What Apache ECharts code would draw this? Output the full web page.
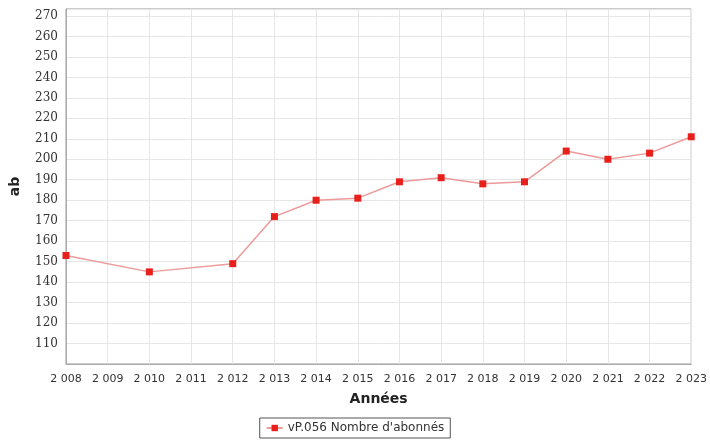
<!DOCTYPE html>
<html><head><meta charset="utf-8">
<script src="https://cdn.jsdelivr.net/npm/echarts@6/dist/echarts.min.js"></script>
<style>html,body{margin:0;padding:0;background:#fff}#c{width:710px;height:440px}</style>
</head><body><div id="c"></div>
<script>
const years = [2008, 2010, 2012, 2013, 2014, 2015, 2016, 2017, 2018, 2019, 2020, 2021, 2022, 2023];
const values = [153, 145, 149, 172, 180, 181, 189, 191, 188, 189, 204, 200, 203, 211];
const seriesName = "vP.056 Nombre d'abonnés";
const xName = "Années";
const yName = "ab";

const chart = echarts.init(document.getElementById('c'));
chart.setOption({
  animation: false,
  backgroundColor: '#fff',
  grid: { left: 66, right: 14, top: 9, bottom: 76, show: true, borderColor: '#999', borderWidth: 1, backgroundColor: '#fff' },
  xAxis: {
    type: 'value', min: 2008, max: 2023, interval: 1,
    name: xName, nameLocation: 'middle', nameGap: 28,
    nameTextStyle: { fontFamily: 'DejaVu Sans', fontWeight: 'bold', fontSize: 14, color: '#222' },
    axisLine: { show: true, lineStyle: { color: '#aaa' } },
    axisTick: { show: false },
    axisLabel: { fontFamily: 'DejaVu Sans', fontSize: 11, color: '#333', margin: 10,
      formatter: v => { const s = String(v); return s[0] + ' ' + s.slice(1); } },
    splitLine: { show: true, lineStyle: { color: '#e6e6e6' } }
  },
  yAxis: {
    type: 'value', min: 100, max: 273.4, interval: 10,
    name: yName, nameLocation: 'middle', nameGap: 44, nameRotate: 90,
    nameTextStyle: { fontFamily: 'DejaVu Sans', fontWeight: 'bold', fontSize: 14, color: '#222' },
    axisLine: { show: true, lineStyle: { color: '#aaa' } },
    axisTick: { show: false },
    axisLabel: { fontFamily: 'DejaVu Serif', fontSize: 12, color: '#333', margin: 8, showMinLabel: false, showMaxLabel: false },
    splitLine: { show: true, lineStyle: { color: '#e6e6e6' } }
  },
  legend: {
    bottom: 2, left: 'center', itemWidth: 16, itemHeight: 8,
    borderColor: '#555', borderWidth: 1, padding: [4, 6, 4, 6], borderRadius: 0,
    textStyle: { fontFamily: 'DejaVu Sans', fontSize: 12, color: '#333' },
    data: [seriesName]
  },
  series: [{
    name: seriesName, type: 'line',
    data: years.map((y, i) => [y, values[i]]),
    symbol: 'rect', symbolSize: 7,
    lineStyle: { color: '#ec9a9a', width: 1.5 },
    itemStyle: { color: '#e8201c' }
  }]
});
</script></body></html>
